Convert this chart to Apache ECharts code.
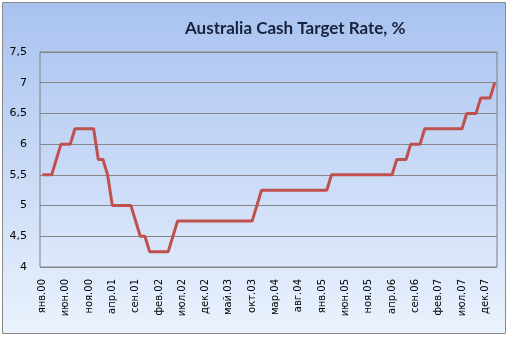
<!DOCTYPE html>
<html><head><meta charset="utf-8">
<script src="https://cdn.jsdelivr.net/npm/echarts@6/dist/echarts.min.js"></script>
<style>html,body{margin:0;padding:0;background:#fff}#c{width:509px;height:337px}</style>
</head><body><div id="c"></div>
<script>
const monthNames = ['янв','фев','мар','апр','май','июн','июл','авг','сен','окт','ноя','дек'];
const startYear = 2000;
const rates = [
  5.5,5.5,5.5,5.75,6,6,6,6.25,6.25,6.25,6.25,6.25,
  5.75,5.75,5.5,5,5,5,5,5,4.75,4.5,4.5,4.25,
  4.25,4.25,4.25,4.25,4.5,4.75,4.75,4.75,4.75,4.75,4.75,4.75,
  4.75,4.75,4.75,4.75,4.75,4.75,4.75,4.75,4.75,4.75,5,5.25,
  5.25,5.25,5.25,5.25,5.25,5.25,5.25,5.25,5.25,5.25,5.25,5.25,
  5.25,5.25,5.5,5.5,5.5,5.5,5.5,5.5,5.5,5.5,5.5,5.5,
  5.5,5.5,5.5,5.5,5.75,5.75,5.75,6,6,6,6.25,6.25,
  6.25,6.25,6.25,6.25,6.25,6.25,6.25,6.5,6.5,6.5,6.75,6.75,
  6.75,7
];
const categories = rates.map((_, i) => {
  const y = startYear + Math.floor(i / 12);
  return monthNames[i % 12] + '.' + String(y % 100).padStart(2, '0');
});
const chart = echarts.init(document.getElementById('c'));
chart.setOption({
  animation: false,
  graphic: [{
    type: 'rect', z: -10, silent: true,
    shape: { x: 2.5, y: 2.5, width: 503, height: 331 },
    style: {
      fill: new echarts.graphic.LinearGradient(0, 0, 0, 1, [
        { offset: 0, color: '#a8c2f0' }, { offset: 1, color: '#eaf2fd' }
      ]),
      stroke: '#8a8a8a', lineWidth: 1
    }
  }],
  title: {
    text: 'Australia Cash Target Rate, %',
    left: 180, top: 15,
    textStyle: { fontFamily: 'Lato', fontWeight: 'bold', fontSize: 17, color: '#17223d' }
  },
  grid: { left: 40, right: 12, top: 52, bottom: 70, show: true, borderColor: '#808080', borderWidth: 1, backgroundColor: 'transparent' },
  xAxis: {
    type: 'category', data: categories, boundaryGap: true,
    axisLine: { show: false }, axisTick: { show: false },
    axisLabel: { interval: 4, rotate: 90, margin: 12, fontFamily: 'DejaVu Sans', fontSize: 10, color: '#000' }
  },
  yAxis: {
    type: 'value', min: 4, max: 7.5, interval: 0.5,
    axisLine: { show: false }, axisTick: { show: false },
    splitLine: { lineStyle: { color: '#868686', width: 1 } },
    axisLabel: { margin: 13, fontFamily: 'DejaVu Sans', fontSize: 11, color: '#000',
      formatter: v => String(v).replace('.', ',') }
  },
  series: [{
    type: 'line', data: rates, showSymbol: false,
    lineStyle: { color: '#c0504d', width: 3 }
  }]
});
</script></body></html>
